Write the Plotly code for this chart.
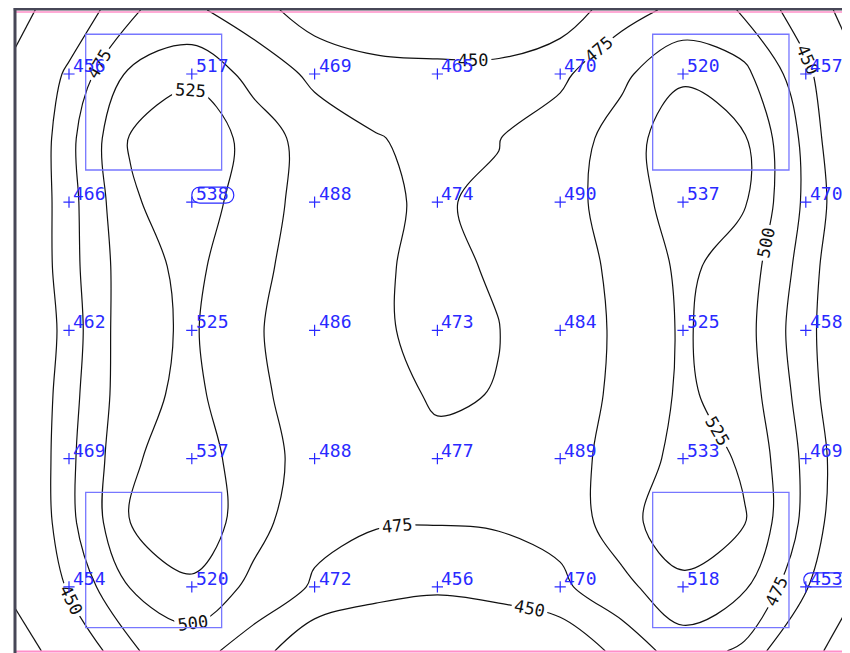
import plotly.graph_objects as go

# ---- measured calculation points (the blue labels) ----
X_POS = [0, 1, 2, 3, 4, 5, 6]
Y_POS = [4, 3, 2, 1, 0]
POINT_VALUES = [
    [456, 517, 469, 465, 470, 520, 457],
    [466, 538, 488, 474, 490, 537, 470],
    [462, 525, 486, 473, 484, 525, 458],
    [469, 537, 488, 477, 489, 533, 469],
    [454, 520, 472, 456, 470, 518, 453],
]
# circled extreme values (row, column)
MARKED = [(1, 1), (4, 6)]

# ---- field (half-step grid incl. wall edges), rows top -> bottom ----
FIELD_X = [-0.44, 0, 0.5, 1, 1.5, 2, 2.5, 3, 3.5, 4, 4.5, 5, 5.5, 6, 6.36]
FIELD_Y = [4.5, 4, 3.5, 3, 2.5, 2, 1.5, 1, 0.5, 0, -0.5]
FIELD_Z = [
    [385, 425, 474, 480, 460, 437, 417, 401, 403, 434, 465, 482, 474, 433, 380],
    [410, 456, 504, 517, 493, 469, 464, 465, 465, 470, 495, 520, 506, 457, 415],
    [412, 468, 527, 552, 512, 490, 476, 470, 474.5, 487, 510, 545, 527, 468, 418],
    [415, 466, 522, 538, 513, 488, 476, 474, 477, 490, 512, 537, 527, 470, 428],
    [414, 466, 516, 531, 507, 487, 476, 473, 476, 488, 506, 530, 514, 464, 420],
    [408, 462, 518, 528, 503, 486, 476, 473, 474.8, 484, 505, 528, 510, 458, 425],
    [412, 466, 517, 531, 506, 487, 478, 474, 475.3, 486, 506, 529, 514, 463, 422],
    [412, 469, 522, 537, 513, 488, 481, 477, 481, 489, 510, 533, 523, 469, 430],
    [410, 468, 525, 545, 509, 482, 476.5, 475.8, 477, 483, 514, 545, 526, 468, 425],
    [410, 454, 501, 520, 494, 472, 462, 456, 462, 470, 493, 518, 503, 453, 408],
    [380, 421, 473, 486, 462, 428, 415, 408, 415, 428, 458, 488, 470, 415, 378],
]

MAIN_LEVELS = (450, 525, 25)
CORNER_LEVEL = 400

BLUE = "#2a2aff"
BOX_BLUE = "#7777ff"
FONT = "DejaVu Sans Mono"

fy = FIELD_Y[::-1]
fz = FIELD_Z[::-1]

fig = go.Figure()

fig.add_trace(go.Contour(
    x=FIELD_X, y=fy, z=fz,
    contours=dict(start=MAIN_LEVELS[0], end=MAIN_LEVELS[1], size=MAIN_LEVELS[2],
                  coloring="none", showlabels=True,
                  labelfont=dict(family=FONT, size=17, color="#111111")),
    line=dict(color="#111111", width=1.2, smoothing=1.0),
    showscale=False, hoverinfo="skip",
))
fig.add_trace(go.Contour(
    x=FIELD_X, y=fy, z=fz,
    contours=dict(start=CORNER_LEVEL, end=CORNER_LEVEL + 1, size=100,
                  coloring="none", showlabels=True,
                  labelfont=dict(family=FONT, size=17, color="#111111")),
    line=dict(color="#111111", width=1.2, smoothing=1.0),
    showscale=False, hoverinfo="skip",
))

# crosses at calculation points
px, py = [], []
for r, yv in enumerate(Y_POS):
    for c, xv in enumerate(X_POS):
        px.append(xv)
        py.append(yv)
fig.add_trace(go.Scatter(
    x=px, y=py, mode="markers",
    marker=dict(symbol="cross-thin", size=8, line=dict(color=BLUE, width=1.2)),
    hoverinfo="skip",
))

annotations = []
for r, yv in enumerate(Y_POS):
    for c, xv in enumerate(X_POS):
        annotations.append(dict(
            x=xv, y=yv, xref="x", yref="y", text=str(POINT_VALUES[r][c]),
            showarrow=False, xanchor="left", yanchor="bottom",
            xshift=2, yshift=-4,
            font=dict(family=FONT, size=18, color=BLUE),
        ))

shapes = []
# luminaire boxes
for (x0, x1) in [(0.136, 1.243), (4.753, 5.863)]:
    for (y0, y1) in [(3.251, 4.31), (-0.319, 0.737)]:
        shapes.append(dict(type="rect", xref="x", yref="y", x0=x0, x1=x1, y0=y0, y1=y1,
                           line=dict(color=BOX_BLUE, width=1.3)))

# rounded outlines around the extreme values (pixel-sized, anchored at the point)
def stadium(xa, xb, ya, yb):
    r = (yb - ya) / 2.0
    k = r * 4.0 / 3.0
    return (f"M {xa + r},{ya} L {xb - r},{ya} C {xb - r + k},{ya} {xb - r + k},{yb} {xb - r},{yb} "
            f"L {xa + r},{yb} C {xa + r - k},{yb} {xa + r - k},{ya} {xa + r},{ya} Z")

for (r_i, c_i), (xa, xb, ya, yb) in zip(MARKED, [(0, 42, -1, 15), (-2, 42, 0, 14)]):
    shapes.append(dict(type="path", xref="x", yref="y", xsizemode="pixel", ysizemode="pixel",
                       xanchor=X_POS[c_i], yanchor=Y_POS[r_i],
                       path=stadium(xa, xb, ya, yb),
                       line=dict(color=BLUE, width=1.2)))

# frame lines
shapes.append(dict(type="line", xref="paper", yref="paper", x0=0, x1=1, y0=0.99688, y1=0.99688,
                   line=dict(color="#ff8fc8", width=1.5)))
shapes.append(dict(type="line", xref="paper", yref="paper", x0=0, x1=1, y0=-0.0008, y1=-0.0008,
                   line=dict(color="#ff8fc8", width=2)))
shapes.append(dict(type="line", xref="paper", yref="paper", x0=-0.0015, x1=1, y0=1.0012, y1=1.0012,
                   line=dict(color="#474757", width=2.5)))
shapes.append(dict(type="line", xref="paper", yref="paper", x0=0, x1=0, y0=-0.003, y1=1.003,
                   line=dict(color="#474757", width=3)))

# page body has an 8px margin: figure is sized so the plot sits where the reference has it
fig.update_layout(
    width=842, height=645,
    margin=dict(l=7, r=0, t=2, b=2),
    paper_bgcolor="white", plot_bgcolor="white",
    showlegend=False,
    xaxis=dict(range=[-0.4397, 6.3599], visible=False, fixedrange=True),
    yaxis=dict(range=[-0.5008, 4.4992], visible=False, fixedrange=True),
    annotations=annotations,
    shapes=shapes,
)

fig.write_html("out.html")
